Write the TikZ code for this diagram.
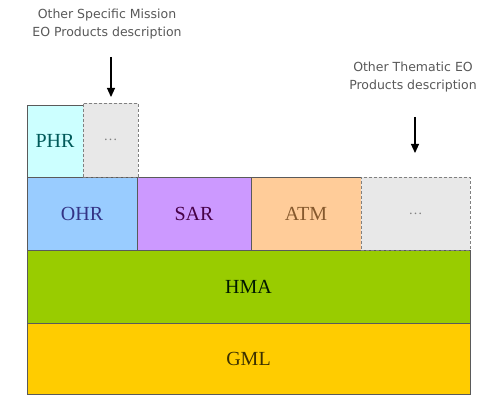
\documentclass[tikz,border=0pt]{standalone}
\usepackage{fontspec}
\setmainfont{Liberation Serif}
\newfontfamily\notefont{DejaVu Sans}
\usetikzlibrary{arrows.meta}
\definecolor{cPHR}{HTML}{CCFFFF}
\definecolor{cDots}{HTML}{E8E8E8}
\definecolor{cOHR}{HTML}{99CCFF}
\definecolor{cSAR}{HTML}{CC99FF}
\definecolor{cATM}{HTML}{FFCC99}
\definecolor{cHMA}{HTML}{99CC00}
\definecolor{cGML}{HTML}{FFCC00}
\definecolor{cEdge}{HTML}{5A5A5A}
\tikzset{
  layer/.style={draw=cEdge, line width=0.9pt, inner sep=0pt, outer sep=0pt, anchor=north west,
    font=\fontsize{20}{24}\selectfont},
  dotbox/.style={layer, fill=cDots, draw=gray, dash pattern=on 3pt off 2pt, text=gray},
  note/.style={font=\notefont\fontsize{12.5}{18}\selectfont, text=black!65, align=center},
  down/.style={-{Triangle[length=9pt,width=8pt]}, line width=1.1pt}
}
\begin{document}
\begin{tikzpicture}[x=1pt,y=-1pt]
\useasboundingbox (0,0) rectangle (492,395);
\fill[white] (0,0) rectangle (492,395);
\node[layer, fill=cGML, text=black!60!cGML!60!black, minimum width=443pt, minimum height=71pt] (gml) at (27,323) {GML};
\node[layer, fill=cHMA, text=black!75!green!40!black, minimum width=443pt, minimum height=73pt] (hma) at (27,250) {HMA};
\node[layer, fill=cOHR, text=blue!40!black!80, minimum width=110pt, minimum height=73pt] (ohr) at (27,177) {OHR};
\node[layer, fill=cSAR, text=violet!55!black, minimum width=114pt, minimum height=73pt] (sar) at (137,177) {SAR};
\node[layer, fill=cATM, text=brown!70!black, minimum width=110pt, minimum height=73pt] (atm) at (251,177) {ATM};
\node[layer, fill=cPHR, text=teal!70!black, minimum width=56pt, minimum height=72pt] (phr) at (27,105) {PHR};
\node[dotbox, minimum width=55pt, minimum height=74pt] (dotsa) at (83,103) {\fontsize{14}{16}\selectfont\dots};
\node[dotbox, minimum width=109pt, minimum height=73pt] (dotsb) at (361,177) {\fontsize{14}{16}\selectfont\dots};
\node[note] (notea) at (107,24) {Other Specific Mission\\EO Products description};
\node[note] (noteb) at (413,77) {Other Thematic EO\\Products description};
\coordinate (sa) at (111,57);
\coordinate (sb) at (415,117);
\draw[down] (sa) -- ([yshift=6pt]dotsa.north -| sa);
\draw[down] (sb) -- ([yshift=24pt]dotsb.north -| sb);
\end{tikzpicture}
\end{document}
